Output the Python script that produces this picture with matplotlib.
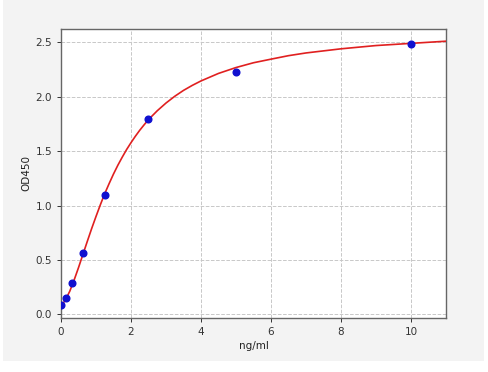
import matplotlib
matplotlib.use("Agg")
import matplotlib.pyplot as plt
from matplotlib.patches import Rectangle

# Standard points (ng/ml vs OD450)
conc = [0, 0.156, 0.312, 0.625, 1.25, 2.5, 5, 10]
od450 = [0.088, 0.152, 0.287, 0.569, 1.095, 1.793, 2.225, 2.485]

# Fitted curve
curve_x = [0, 0.0625, 0.125, 0.25, 0.375, 0.5, 0.625, 0.75, 0.875, 1.0, 1.125,
           1.25, 1.375, 1.5, 1.625, 1.75, 1.875, 2.0, 2.125, 2.25, 2.375, 2.5,
           2.75, 3.0, 3.25, 3.5, 3.75, 4.0, 4.5, 5.0, 5.5, 6.0, 6.5, 7.0, 8.0,
           9.0, 10.0, 11.0]
curve_y = [0.09, 0.104, 0.132, 0.213, 0.316, 0.43, 0.55, 0.67, 0.788, 0.90, 1.008,
           1.11, 1.202, 1.29, 1.371, 1.445, 1.515, 1.578, 1.637, 1.692, 1.742, 1.79,
           1.871, 1.942, 2.004, 2.058, 2.104, 2.145, 2.214, 2.268, 2.312, 2.345,
           2.377, 2.402, 2.44, 2.47, 2.49, 2.51]

x_ticks = [0, 2, 4, 6, 8, 10]
y_ticks = [0.0, 0.5, 1.0, 1.5, 2.0, 2.5]

fig = plt.figure(figsize=(4.89, 3.72), dpi=100, facecolor="white")
fig.patches.append(Rectangle((3 / 489, 11 / 372), 481 / 489, 361 / 372,
                             transform=fig.transFigure, facecolor="#f3f3f3",
                             edgecolor="none", zorder=-10))
ax = fig.add_axes([61 / 489, (372 - 317.5) / 372, 385 / 489, 288.5 / 372])
ax.set_facecolor("white")
ax.set_zorder(5)

ax.plot(curve_x, curve_y, color="#e02020", lw=1.2, zorder=3)
ax.plot(conc, od450, "o", color="#1010d0", ms=4.8, zorder=4)

ax.set_xlim(0, 11)
ax.set_ylim(-0.028, 2.622)
ax.set_xticks(x_ticks)
ax.set_yticks(y_ticks)
ax.set_xticklabels([str(t) for t in x_ticks])
ax.set_yticklabels([f"{t:.1f}" for t in y_ticks])
ax.grid(True, linestyle="--", color="#c8c8c8", lw=0.7)
ax.tick_params(labelsize=7.5, length=3, width=0.7, colors="#333333")
for s in ax.spines.values():
    s.set_color("#666666")
    s.set_linewidth(1.0)
ax.set_xlabel("ng/ml", fontsize=7.5, color="#222222", labelpad=3)
ax.set_ylabel("OD450", fontsize=7.5, color="#222222", labelpad=3)

fig.savefig("out.png", dpi=100, facecolor="white")
